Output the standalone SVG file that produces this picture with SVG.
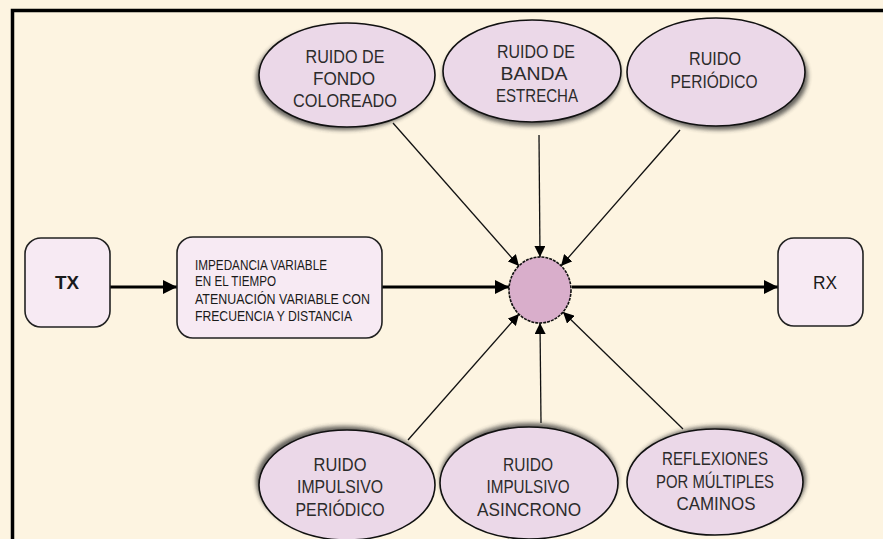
<svg xmlns="http://www.w3.org/2000/svg" width="883" height="539" viewBox="0 0 883 539">
<defs>
<style>
.bg{fill:#FDF4E1}
.frame{fill:none;stroke:#000;stroke-width:3.5}
.ell{fill:#EBD8E8;stroke:#111;stroke-width:1.6}
.sh{fill:#333;opacity:0.75;filter:url(#blur)}
.box{fill:#F7EAF3;stroke:#222;stroke-width:1.6}
.hub{fill:#D9AECB;stroke:#111;stroke-width:1.6;stroke-dasharray:3 1}
.t{font-family:"Liberation Sans",Arial,sans-serif;font-size:19px;fill:#2b2b2b;text-anchor:middle}
.bt{font-family:"Liberation Sans",Arial,sans-serif;font-size:14px;fill:#1a1a1a}
.big{font-family:"Liberation Sans",Arial,sans-serif;font-size:19px;font-weight:bold;fill:#1a1a1a;text-anchor:middle}
.thick{fill:none;stroke:#000;stroke-width:3;marker-end:url(#ah)}
.thin{fill:none;stroke:#111;stroke-width:1.3;marker-end:url(#as)}
</style>
<filter id="blur" x="-20%" y="-20%" width="140%" height="140%"><feGaussianBlur stdDeviation="2"/></filter>
<marker id="ah" viewBox="0 0 14 14" refX="14" refY="7" markerWidth="14" markerHeight="14" markerUnits="userSpaceOnUse" orient="auto"><path d="M0,0 L14,7 L0,14 z" fill="#000"/></marker>
<marker id="as" viewBox="0 0 11 11" refX="11" refY="5.5" markerWidth="11" markerHeight="11" markerUnits="userSpaceOnUse" orient="auto"><path d="M0,0 L11,5.5 L0,11 z" fill="#000"/></marker>
</defs>
<rect class="bg" x="0" y="0" width="883" height="539"/>
<rect class="bg" x="12" y="10" width="880" height="540"/>
<rect class="frame" x="12.5" y="10.5" width="880" height="540"/>

<g id="connectors">
<path class="thick" d="M110,287 L177,287"/>
<path class="thick" d="M382,287 L509,287"/>
<path class="thick" d="M572,287 L778,287"/>
<path class="thin" d="M393,123 L519,266"/>
<path class="thin" d="M539,135 L540,257"/>
<path class="thin" d="M680,130 L561,266"/>
<path class="thin" d="M408,440 L519,314"/>
<path class="thin" d="M541,423 L540,323"/>
<path class="thin" d="M683,429 L563,312"/>
</g>

<g id="hub"><ellipse class="hub" cx="540" cy="290" rx="31" ry="33"/></g>

<g id="tx">
<rect class="box" x="25" y="238" width="85" height="89" rx="16"/>
<text class="big" x="67" y="289" textLength="24" lengthAdjust="spacingAndGlyphs">TX</text>
</g>

<g id="canal">
<rect class="box" x="177" y="237" width="205" height="101" rx="16"/>
<text class="bt" x="195" y="270" textLength="132" lengthAdjust="spacingAndGlyphs">IMPEDANCIA VARIABLE</text>
<text class="bt" x="195" y="286" textLength="81" lengthAdjust="spacingAndGlyphs">EN EL TIEMPO</text>
<text class="bt" x="195" y="304" textLength="175" lengthAdjust="spacingAndGlyphs">ATENUACIÓN VARIABLE CON</text>
<text class="bt" x="195" y="321" textLength="157" lengthAdjust="spacingAndGlyphs">FRECUENCIA Y DISTANCIA</text>
</g>

<g id="rx">
<rect class="box" x="778" y="238" width="85" height="88" rx="16"/>
<text class="big" x="825" y="289" textLength="24" lengthAdjust="spacingAndGlyphs" style="font-weight:normal">RX</text>
</g>

<g id="fondo">
<ellipse class="sh" cx="344" cy="78" rx="88" ry="52"/>
<ellipse class="ell" cx="347" cy="75" rx="88" ry="52"/>
<text class="t" x="345" y="63" textLength="79" lengthAdjust="spacingAndGlyphs">RUIDO DE</text>
<text class="t" x="344" y="85" textLength="62" lengthAdjust="spacingAndGlyphs">FONDO</text>
<text class="t" x="345" y="107" textLength="104" lengthAdjust="spacingAndGlyphs">COLOREADO</text>
</g>

<g id="banda">
<ellipse class="sh" cx="532" cy="75" rx="89" ry="51"/>
<ellipse class="ell" cx="532" cy="71" rx="89" ry="51"/>
<text class="t" x="536" y="58" textLength="78" lengthAdjust="spacingAndGlyphs">RUIDO DE</text>
<text class="t" x="534" y="80" textLength="67" lengthAdjust="spacingAndGlyphs">BANDA</text>
<text class="t" x="537" y="102" textLength="82" lengthAdjust="spacingAndGlyphs">ESTRECHA</text>
</g>

<g id="periodico">
<ellipse class="sh" cx="719" cy="76" rx="89" ry="54"/>
<ellipse class="ell" cx="716" cy="72" rx="89" ry="54"/>
<text class="t" x="715" y="65" textLength="52" lengthAdjust="spacingAndGlyphs">RUIDO</text>
<text class="t" x="714" y="88" textLength="87" lengthAdjust="spacingAndGlyphs">PERIÓDICO</text>
</g>

<g id="impulsivo-periodico">
<ellipse class="sh" cx="344" cy="481" rx="88" ry="55"/>
<ellipse class="ell" cx="347" cy="485" rx="88" ry="55"/>
<text class="t" x="340" y="471" textLength="53" lengthAdjust="spacingAndGlyphs">RUIDO</text>
<text class="t" x="340" y="493" textLength="86" lengthAdjust="spacingAndGlyphs">IMPULSIVO</text>
<text class="t" x="340" y="516" textLength="89" lengthAdjust="spacingAndGlyphs">PERIÓDICO</text>
</g>

<g id="impulsivo-asincrono">
<ellipse class="sh" cx="529" cy="479" rx="89" ry="56"/>
<ellipse class="ell" cx="529" cy="483" rx="89" ry="56"/>
<text class="t" x="528" y="471" textLength="50" lengthAdjust="spacingAndGlyphs">RUIDO</text>
<text class="t" x="528" y="493" textLength="83" lengthAdjust="spacingAndGlyphs">IMPULSIVO</text>
<text class="t" x="529" y="516" textLength="104" lengthAdjust="spacingAndGlyphs">ASINCRONO</text>
</g>

<g id="reflexiones">
<ellipse class="sh" cx="718" cy="479" rx="88" ry="53"/>
<ellipse class="ell" cx="715" cy="482" rx="88" ry="53"/>
<text class="t" x="715" y="465" textLength="106" lengthAdjust="spacingAndGlyphs">REFLEXIONES</text>
<text class="t" x="715" y="488" textLength="118" lengthAdjust="spacingAndGlyphs">POR MÚLTIPLES</text>
<text class="t" x="716" y="510" textLength="79" lengthAdjust="spacingAndGlyphs">CAMINOS</text>
</g>
</svg>
